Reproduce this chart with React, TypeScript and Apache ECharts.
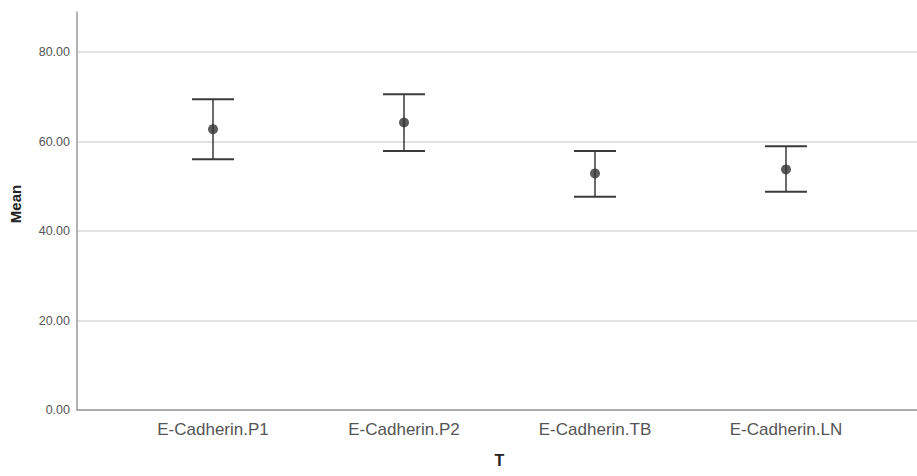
import React, { useEffect, useRef } from "react";
import * as echarts from "echarts";

const categories = ["E-Cadherin.P1", "E-Cadherin.P2", "E-Cadherin.TB", "E-Cadherin.LN"];
const means = [62.8, 64.3, 52.9, 53.8];
const lowerCI = [56.1, 57.9, 47.7, 48.8];
const upperCI = [69.5, 70.6, 57.9, 59.0];
const yMin = 0;
const yMax = 89;
const yInterval = 20;

export default function App() {
  const ref = useRef<HTMLDivElement>(null);
  useEffect(() => {
    if (!ref.current) return;
    const chart = echarts.init(ref.current, null, { renderer: "svg" });
    const errData = categories.map((_, i) => [i, lowerCI[i], upperCI[i]]);
    chart.setOption({
      animation: false,
      backgroundColor: "#ffffff",
      grid: [
        { left: 77, right: 0, top: 12, bottom: 66 },
        { left: 117.5, right: 35.5, top: 12, bottom: 66 },
      ],
      graphic: [
        {
          type: "text",
          x: 15,
          y: 204,
          rotation: Math.PI / 2,
          style: {
            text: "Mean",
            fontFamily: "Liberation Sans",
            fontWeight: "bold",
            fontSize: 15,
            fill: "#222",
            align: "center",
            verticalAlign: "middle",
          },
        },
      ],
      xAxis: [
        {
          gridIndex: 0,
          type: "value",
          min: 0,
          max: 1,
          axisLine: { show: true, lineStyle: { color: "#9a9a9a", width: 1.5 } },
          axisTick: { show: false },
          axisLabel: { show: false },
          splitLine: { show: false },
        },
        {
          gridIndex: 1,
          type: "category",
          data: categories,
          axisLine: { show: false },
          axisTick: { show: false },
          axisLabel: {
            fontFamily: "Liberation Sans",
            fontSize: 17,
            color: "#555",
            margin: 11,
          },
          name: "T",
          nameLocation: "middle",
          nameGap: 42,
          nameTextStyle: { fontFamily: "Liberation Sans", fontWeight: "bold", fontSize: 16, color: "#222" },
        },
      ],
      yAxis: [
        {
          gridIndex: 0,
          type: "value",
          min: yMin,
          max: yMax,
          interval: yInterval,
          axisLine: { show: true, lineStyle: { color: "#9a9a9a", width: 1.5 } },
          axisTick: { show: false },
          axisLabel: {
            showMaxLabel: false,
            fontFamily: "Liberation Sans",
            fontSize: 12.5,
            color: "#555",
            margin: 7,
            formatter: (v: number) => v.toFixed(2),
          },
          splitLine: {
            show: true,
            showMaxLine: false,
            lineStyle: { color: "#d9d9d9", width: 1.5 },
          },
        },
        {
          gridIndex: 1,
          type: "value",
          min: yMin,
          max: yMax,
          show: false,
          splitLine: { show: false },
        },
      ],
      series: [
        {
          type: "custom",
          xAxisIndex: 1,
          yAxisIndex: 1,
          data: errData,
          renderItem: (params: any, api: any) => {
            const x = api.value(0);
            const lo = api.coord([x, api.value(1)]);
            const hi = api.coord([x, api.value(2)]);
            const half = 21;
            const style = { stroke: "#3a3a3a", lineWidth: 2 };
            return {
              type: "group",
              children: [
                { type: "line", shape: { x1: lo[0], y1: lo[1], x2: hi[0], y2: hi[1] }, style: { stroke: "#3a3a3a", lineWidth: 1.5 } },
                { type: "line", shape: { x1: hi[0] - half, y1: hi[1], x2: hi[0] + half, y2: hi[1] }, style },
                { type: "line", shape: { x1: lo[0] - half, y1: lo[1], x2: lo[0] + half, y2: lo[1] }, style },
              ],
            };
          },
        },
        {
          type: "scatter",
          xAxisIndex: 1,
          yAxisIndex: 1,
          data: means.map((m, i) => [i, m]),
          symbol: "circle",
          symbolSize: 10,
          itemStyle: { color: "#333333" },
          z: 5,
        },
      ],
    });
    return () => chart.dispose();
  }, []);
  return <div ref={ref} style={{ width: 917, height: 476, position: "absolute", left: 0, top: 0 }} />;
}
